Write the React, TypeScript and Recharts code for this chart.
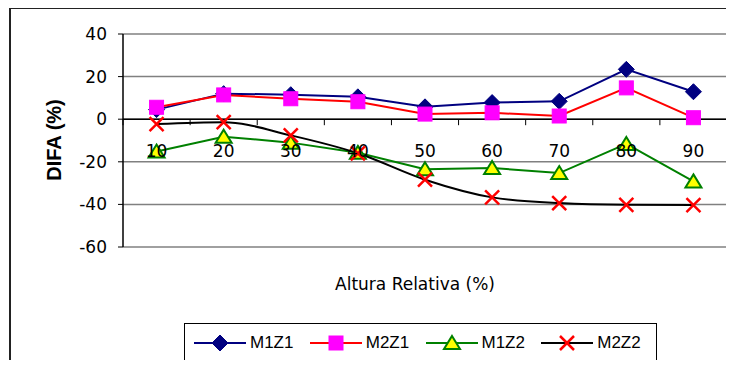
import { CartesianGrid, Line, LineChart, ReferenceLine, XAxis, YAxis } from 'recharts';

// Relative height categories (%) and DIFA values (%) per series
const heights = [10, 20, 30, 40, 50, 60, 70, 80, 90];
const m1z1 = [4.5, 12, 11.5, 10.5, 5.8, 7.8, 8.4, 23.4, 12.9];
const m2z1 = [5.6, 11.4, 9.6, 8.2, 2.4, 3.0, 1.5, 14.7, 0.7];
const m1z2 = [-15.2, -8.2, -11, -15.8, -23.5, -22.9, -25.3, -11.6, -29.2];
const m2z2 = [-2.3, -1.4, -7.6, -16, -28.4, -36.7, -39.4, -40.2, -40.3];

const yTicks = [-60, -40, -20, 0, 20, 40];
const boundaryTicks = [5, 15, 25, 35, 45, 55, 65, 75, 85, 95];

const data = heights.map((h, i) => ({ h, m1z1: m1z1[i], m2z1: m2z1[i], m1z2: m1z2[i], m2z2: m2z2[i] }));

const W = 734;
const H = 368;
const PLOT_TOP = 34;
const PLOT_BOTTOM = 247;
const Y_MIN = -60;
const Y_MAX = 40;
const zeroY = PLOT_TOP + ((PLOT_BOTTOM - PLOT_TOP) * (Y_MAX - 0)) / (Y_MAX - Y_MIN);

const TICK_FONT = "'DejaVu Sans', sans-serif";
const TEXT_FONT = "Arial, 'Liberation Sans', sans-serif";

type MarkerKind = 'diamond' | 'square' | 'triangle' | 'cross';

function Marker({ kind, cx, cy }: { kind: MarkerKind; cx: number; cy: number }) {
  if (kind === 'diamond') {
    return <polygon points={`${cx},${cy - 8} ${cx + 8},${cy} ${cx},${cy + 8} ${cx - 8},${cy}`} fill="#000080" stroke="#000080" />;
  }
  if (kind === 'square') {
    return <rect x={cx - 7} y={cy - 7} width={14} height={14} fill="#FF00FF" stroke="#FF00FF" />;
  }
  if (kind === 'triangle') {
    return <polygon points={`${cx},${cy - 7} ${cx + 8},${cy + 6} ${cx - 8},${cy + 6}`} fill="#FFFF00" stroke="#008000" strokeWidth={2} />;
  }
  return (
    <g stroke="#FF0000" strokeWidth={2.5}>
      <line x1={cx - 7} y1={cy - 7} x2={cx + 7} y2={cy + 7} />
      <line x1={cx - 7} y1={cy + 7} x2={cx + 7} y2={cy - 7} />
    </g>
  );
}

const series: { key: string; name: string; color: string; marker: MarkerKind; smooth?: boolean }[] = [
  { key: 'm1z1', name: 'M1Z1', color: '#000080', marker: 'diamond' },
  { key: 'm2z1', name: 'M2Z1', color: '#FF0000', marker: 'square' },
  { key: 'm1z2', name: 'M1Z2', color: '#008000', marker: 'triangle' },
  { key: 'm2z2', name: 'M2Z2', color: '#000000', marker: 'cross', smooth: true },
];

function CategoryTick({ x, payload }: any) {
  return (
    <text x={x} y={zeroY + 38} textAnchor="middle" fontFamily={TICK_FONT} fontSize={17} fill="#000">
      {payload.value}
    </text>
  );
}

function BoundaryTick({ x }: any) {
  return <line x1={x} y1={zeroY} x2={x} y2={zeroY + 6} stroke="#000" strokeWidth={1} />;
}

function LegendBox() {
  return (
    <div
      style={{
        position: 'absolute',
        left: 184,
        top: 323,
        width: 473,
        height: 39,
        border: '1px solid #000',
        display: 'flex',
        alignItems: 'center',
        paddingLeft: 8,
        boxSizing: 'border-box',
        background: '#fff',
      }}
    >
      {series.map((s) => (
        <div key={s.key} style={{ display: 'flex', alignItems: 'center', width: 118.5 }}>
          <svg width={54} height={20}>
            <line x1={1} y1={10} x2={53} y2={10} stroke={s.color} strokeWidth={2} />
            <Marker kind={s.marker} cx={27} cy={10} />
          </svg>
          <span style={{ fontFamily: TEXT_FONT, fontSize: 17, marginLeft: 3 }}>{s.name}</span>
        </div>
      ))}
    </div>
  );
}

export default function App() {
  return (
    <div style={{ position: 'relative', width: W, height: H, margin: -8, overflow: 'hidden', background: '#fff' }}>
      <div style={{ position: 'absolute', left: 9, top: 7, width: 800, height: 400, borderTop: '2px solid #222', borderLeft: '2px solid #222' }} />
      <LineChart width={W} height={H} data={data} margin={{ top: PLOT_TOP, right: 7, bottom: 101, left: 0 }}>
        <CartesianGrid vertical={false} stroke="#808080" strokeWidth={1.5} />
        <XAxis
          xAxisId="cat"
          dataKey="h"
          type="number"
          domain={[5, 95]}
          ticks={heights}
          axisLine={false}
          tickLine={false}
          tick={<CategoryTick />}
          height={10}
          interval={0}
        />
        <XAxis
          xAxisId="bounds"
          dataKey="h"
          type="number"
          domain={[5, 95]}
          ticks={boundaryTicks}
          axisLine={false}
          tickLine={false}
          tick={<BoundaryTick />}
          height={10}
          interval={0}
        />
        <YAxis
          domain={[Y_MIN, Y_MAX]}
          ticks={yTicks}
          width={123}
          axisLine={{ stroke: '#000', strokeWidth: 1.5 }}
          tickLine={{ stroke: '#000' }}
          tickSize={5}
          tickMargin={11}
          tick={{ fontFamily: TICK_FONT, fontSize: 17, fill: '#000' }}
          interval={0}
        />
        <ReferenceLine xAxisId="cat" x={95} stroke="#808080" strokeWidth={2} />
        <ReferenceLine xAxisId="cat" y={0} stroke="#000" strokeWidth={1.5} />
        {series.map((s) => (
          <Line
            key={s.key}
            xAxisId="cat"
            dataKey={s.key}
            name={s.name}
            type={s.smooth ? 'monotone' : 'linear'}
            stroke={s.color}
            strokeWidth={2}
            isAnimationActive={false}
            dot={(p: any) => <Marker key={`${s.key}-${p.index}`} kind={s.marker} cx={p.cx} cy={p.cy} />}
            activeDot={false}
          />
        ))}
      </LineChart>
      <div
        style={{
          position: 'absolute',
          left: 54,
          top: 140,
          transform: 'translate(-50%, -50%) rotate(-90deg)',
          fontFamily: TEXT_FONT,
          fontWeight: 'bold',
          fontSize: 20,
          whiteSpace: 'nowrap',
        }}
      >
        DIFA (%)
      </div>
      <div
        style={{
          position: 'absolute',
          left: 415,
          top: 284,
          transform: 'translate(-50%, -50%)',
          fontFamily: TICK_FONT,
          fontSize: 17,
          whiteSpace: 'nowrap',
        }}
      >
        Altura Relativa (%)
      </div>
      <LegendBox />
    </div>
  );
}
